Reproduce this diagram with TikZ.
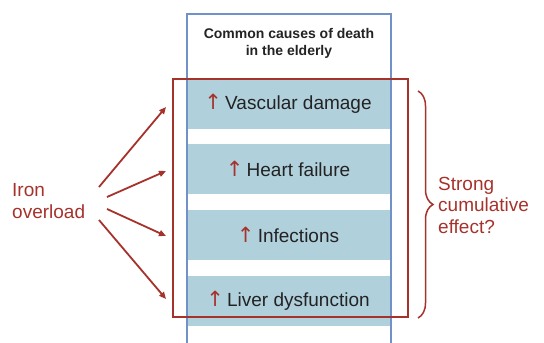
\documentclass[tikz,border=0pt]{standalone}
\usepackage{fontspec}
\setmainfont{Liberation Sans}
\newfontfamily\arrowfont{DejaVu Sans}
\usetikzlibrary{arrows.meta,decorations.pathreplacing}
\definecolor{redc}{RGB}{166,50,44}
\definecolor{bandc}{RGB}{176,208,220}
\definecolor{colc}{RGB}{112,146,200}
\definecolor{txt}{RGB}{35,35,35}
\tikzset{
  band/.style={fill=bandc, minimum width=204pt, minimum height=50pt, inner sep=0pt,
    text=txt, font=\fontsize{19}{22}\selectfont},
  redtext/.style={text=redc, font=\fontsize{19}{21.5}\selectfont, align=left, inner sep=0pt},
  redarrow/.style={draw=redc, line width=1.8pt, -{Triangle[length=7pt,width=6pt]}},
}
\newcommand{\upar}{\textcolor{redc}{\arrowfont\fontsize{21}{21}\selectfont\kern-2pt↑\kern-2pt}}
\begin{document}
\begin{tikzpicture}[x=1pt,y=-1pt]
\useasboundingbox (0,0) rectangle (544,343);
% bands
\node[band] (b1) at (289,103.5) {\upar\ Vascular damage};
\node[band] (b2) at (289,169) {\upar\ Heart failure};
\node[band] (b3) at (289,235) {\upar\ Infections};
\node[band] (b4) at (289,301) {\upar\ Liver dysfunction};
% column
\draw[colc, line width=1.3pt] (187,345) -- (187,14) -- (391,14) -- (391,345);
\node[font=\bfseries\fontsize{14}{17}\selectfont, align=center, text=txt] (hdr) at (289,43.5) {Common causes of death\\in the elderly};
% red group box
\node[draw=redc, line width=2pt, minimum width=235pt, minimum height=238pt, inner sep=0pt] (grp) at (290.5,198) {};
% iron overload
\node[redtext, anchor=west] (iron) at (12,201) {Iron\\overload};
\coordinate (s1) at (99,187);
\coordinate (s2) at (107,197);
\coordinate (s3) at (107,209);
\coordinate (s4) at (99,220);
\coordinate (e1) at (166,107);
\coordinate (e2) at (166,171);
\coordinate (e3) at (166,236);
\coordinate (e4) at (166,299);
\draw[redarrow] (s1) -- (e1);
\draw[redarrow] (s2) -- (e2);
\draw[redarrow] (s3) -- (e3);
\draw[redarrow] (s4) -- (e4);
% brace
\coordinate (bt) at (418,91);
\coordinate (bb) at (418,318);
\draw[redc, line width=1.5pt, decorate, decoration={brace, amplitude=15pt}] (bt) -- (bb);
\node[redtext, anchor=west] (eff) at (438,205) {Strong\\cumulative\\effect?};
\end{tikzpicture}
\end{document}
